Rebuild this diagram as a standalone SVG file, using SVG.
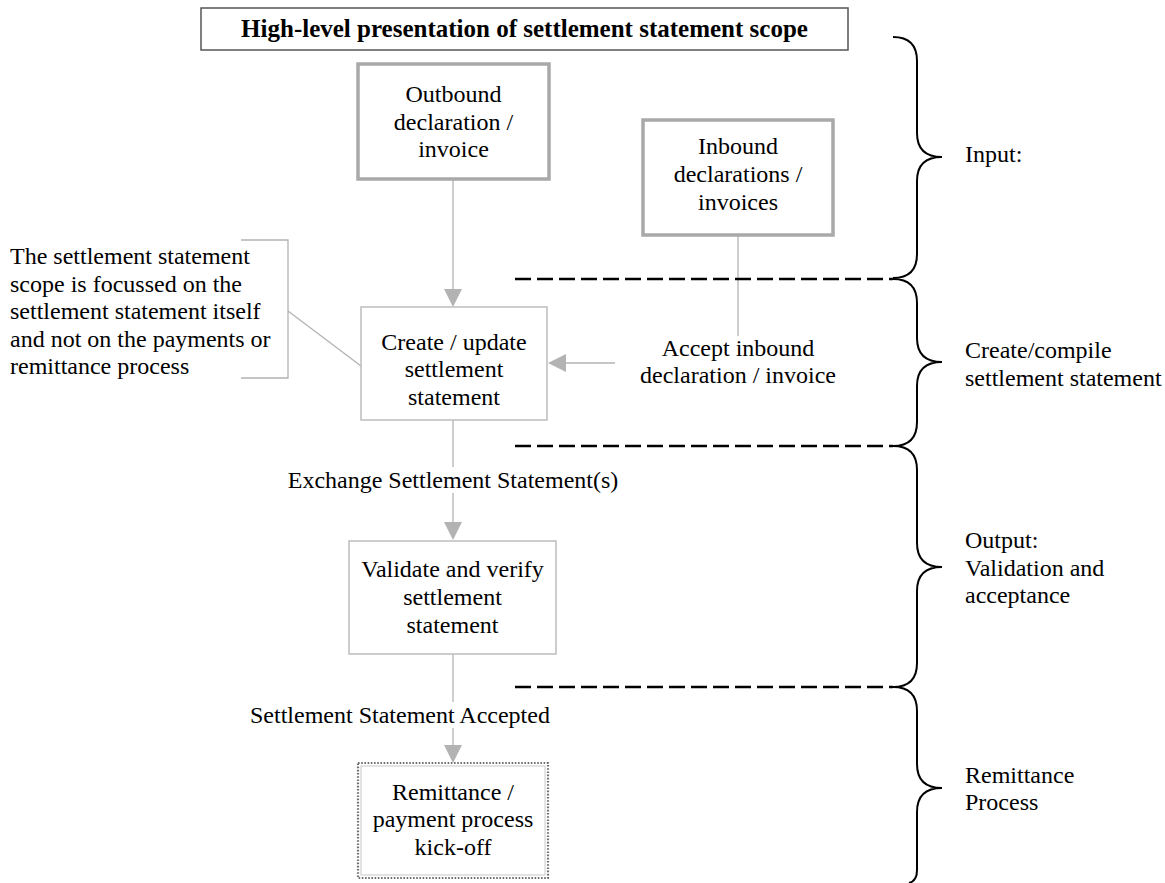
<svg xmlns="http://www.w3.org/2000/svg" width="1165" height="883" viewBox="0 0 1165 883">
<style>
text{font-family:"Liberation Serif","Times New Roman",serif;font-size:24px;fill:#000}
.c{text-anchor:middle}
.b{font-weight:bold;font-size:25px}
.thick{fill:#fff;stroke:#a9a9a9;stroke-width:3.5}
.thin{fill:#fff;stroke:#bdbdbd;stroke-width:1.5}
.conn{stroke:#b3b3b3;stroke-width:1.3;fill:none}
.ah{fill:#b3b3b3}
.dash{stroke:#000;stroke-width:2.5;stroke-dasharray:16 6;fill:none}
.brace{stroke:#000;stroke-width:2;fill:none}
</style>
<rect width="1165" height="883" fill="#fff"/>

<g id="title">
<rect x="201" y="8" width="647" height="42" fill="#fff" stroke="#555" stroke-width="1.5"/>
<text class="c b" x="524.5" y="37">High-level presentation of settlement statement scope</text>
</g>

<g id="connectors">
<line class="conn" x1="453" y1="179" x2="453" y2="290"/>
<polygon class="ah" points="444,289 462,289 453,307"/>
<line class="conn" x1="738" y1="235" x2="738" y2="336"/>
<line class="conn" x1="615" y1="363" x2="565" y2="363"/>
<polygon class="ah" points="566,354 566,372 548,363"/>
<line class="conn" x1="453" y1="420" x2="453" y2="467"/>
<line class="conn" x1="453" y1="493" x2="453" y2="523"/>
<polygon class="ah" points="444,522 462,522 453,540"/>
<line class="conn" x1="453" y1="654" x2="453" y2="702"/>
<line class="conn" x1="453" y1="728" x2="453" y2="746"/>
<polygon class="ah" points="444,745 462,745 453,763"/>
<polyline class="conn" points="241,240 288,240 288,378 241,378"/>
<line class="conn" x1="288" y1="311" x2="361" y2="366"/>
</g>

<g id="outbound">
<rect class="thick" x="358" y="64" width="191" height="115"/>
<text class="c" x="453.5" y="102">Outbound</text>
<text class="c" x="453.5" y="130">declaration /</text>
<text class="c" x="453.5" y="157">invoice</text>
</g>

<g id="inbound">
<rect class="thick" x="643" y="120" width="190" height="115"/>
<text class="c" x="738" y="154">Inbound</text>
<text class="c" x="738" y="182">declarations /</text>
<text class="c" x="738" y="210">invoices</text>
</g>

<g id="accept-label">
<text class="c" x="738" y="356">Accept inbound</text>
<text class="c" x="738" y="383">declaration / invoice</text>
</g>

<g id="create">
<rect class="thin" x="361" y="307" width="186" height="113"/>
<text class="c" x="454" y="350">Create / update</text>
<text class="c" x="454" y="377">settlement</text>
<text class="c" x="454" y="405">statement</text>
</g>

<g id="callout">
<text x="10" y="264">The settlement statement</text>
<text x="10" y="292">scope is focussed on the</text>
<text x="10" y="319">settlement statement itself</text>
<text x="10" y="347">and not on the payments or</text>
<text x="10" y="374">remittance process</text>
</g>

<g id="exchange-label">
<text class="c" x="453" y="488">Exchange Settlement Statement(s)</text>
</g>

<g id="validate">
<rect class="thin" x="349" y="541" width="207" height="113"/>
<text class="c" x="452.5" y="577">Validate and verify</text>
<text class="c" x="452.5" y="605">settlement</text>
<text class="c" x="452.5" y="633">statement</text>
</g>

<g id="accepted-label">
<text x="250" y="723">Settlement Statement Accepted</text>
</g>

<g id="remittance">
<rect x="358" y="763" width="190" height="115" fill="#fff" stroke="#6e6e6e" stroke-width="2.2" stroke-dasharray="1.6 1.6"/>
<rect x="361" y="766" width="184" height="109" fill="none" stroke="#c8c8c8" stroke-width="1"/>
<text class="c" x="453" y="800">Remittance /</text>
<text class="c" x="453" y="827">payment process</text>
<text class="c" x="453" y="855">kick-off</text>
</g>

<g id="dividers">
<line class="dash" x1="515" y1="279" x2="893" y2="279"/>
<line class="dash" x1="515" y1="446" x2="893" y2="446"/>
<line class="dash" x1="515" y1="687" x2="893" y2="687"/>
</g>

<g id="phase-input">
<path class="brace" d="M893,37 Q917,37 917,61 L917,133 Q917,157 942,157 Q917,157 917,181 L917,254 Q917,278 893,278"/>
<text x="965" y="162">Input:</text>
</g>
<g id="phase-create">
<path class="brace" d="M893,279 Q917,279 917,303 L917,338 Q917,362 942,362 Q917,362 917,386 L917,422 Q917,446 893,446"/>
<text x="965" y="358">Create/compile</text>
<text x="965" y="386">settlement statement</text>
</g>
<g id="phase-output">
<path class="brace" d="M893,446 Q917,446 917,470 L917,543 Q917,567 942,567 Q917,567 917,591 L917,663 Q917,687 893,687"/>
<text x="965" y="548">Output:</text>
<text x="965" y="576">Validation and</text>
<text x="965" y="603">acceptance</text>
</g>
<g id="phase-remittance">
<path class="brace" d="M893,687 Q917,687 917,711 L917,764 Q917,788 942,788 Q917,788 917,812 L917,870 Q917,881 909,883"/>
<text x="965" y="783">Remittance</text>
<text x="965" y="810">Process</text>
</g>
</svg>
